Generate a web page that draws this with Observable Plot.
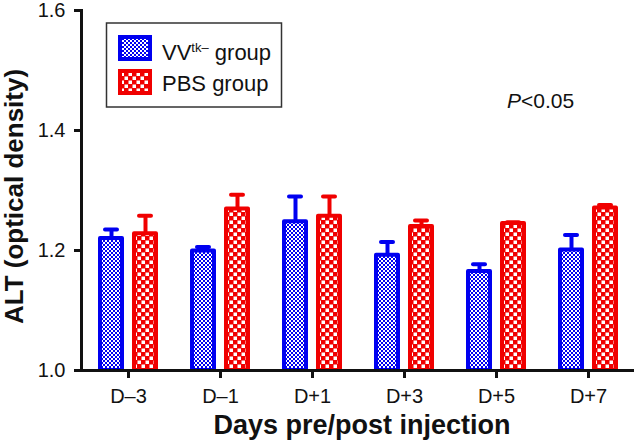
<!DOCTYPE html>
<html><head><meta charset="utf-8">
<script src="https://cdn.jsdelivr.net/npm/d3@7"></script>
<script src="https://cdn.jsdelivr.net/npm/@observablehq/plot@0.6"></script>
<style>
body{margin:0;background:#fff;}
#wrap{position:relative;width:635px;height:447px;font-family:"Liberation Sans",Arial,sans-serif;}
#overlay{position:absolute;left:0;top:0;pointer-events:none;}
</style></head><body><div id="wrap"></div>
<script>
// ---- data ----
const days = ["D–3", "D–1", "D+1", "D+3", "D+5", "D+7"];
const seriesNames = ["VV", "PBS group"];
const vvMean = [1.220, 1.199, 1.248, 1.192, 1.165, 1.201];
const vvErr  = [0.015, 0.007, 0.042, 0.022, 0.012, 0.025];
const pbsMean = [1.228, 1.269, 1.257, 1.240, 1.245, 1.271];
const pbsErr  = [0.030, 0.024, 0.033, 0.010, 0.002, 0.005];
const yTicks = [1.0, 1.2, 1.4, 1.6];
const yBase = 1.0;
const yLabel = "ALT (optical density)";
const xLabel = "Days pre/post injection";

const vv = days.map((d, i) => ({day: d, mean: vvMean[i], err: vvErr[i]}));
const pbs = days.map((d, i) => ({day: d, mean: pbsMean[i], err: pbsErr[i]}));

const BLUE = "#0000f0", RED = "#f00000";
const barInset = 35, capInset = 40;

function group(data, color, pat, dx) {
  return [
    Plot.ruleX(data, {x: "day", y1: "mean", y2: d => d.mean + d.err, dx, stroke: color, strokeWidth: 4}),
    Plot.tickY(data, {x: "day", y: d => d.mean + d.err, dx, stroke: color, strokeWidth: 4, strokeLinecap: "round", insetLeft: capInset, insetRight: capInset}),
    Plot.barY(data, {x: "day", y1: () => yBase, y2: "mean", dx, fill: `url(#${pat})`, stroke: color, strokeWidth: 4, strokeLinejoin: "round", insetLeft: barInset, insetRight: barInset})
  ];
}

const chart = Plot.plot({
  width: 635, height: 447,
  marginLeft: 81, marginRight: 1, marginTop: 10, marginBottom: 77,
  style: {fontFamily: "'Liberation Sans', Arial, sans-serif", color: "#111", background: "#fff"},
  x: {domain: days, padding: 0},
  y: {domain: [1.0, 1.6]},
  marks: [
    ...group(vv, BLUE, "bluePat", -17),
    ...group(pbs, RED, "redPat", 17),
    Plot.axisY({ticks: yTicks, tickFormat: d => d.toFixed(1), tickSize: 7, tickPadding: 9, fontSize: 20, strokeWidth: 3, label: null}),
    Plot.axisX({tickSize: 8, tickPadding: 10, fontSize: 20, strokeWidth: 3, label: null}),
    Plot.frame({anchor: "left", strokeWidth: 3}),
    Plot.ruleY([yBase], {strokeWidth: 3}),
    Plot.text([yLabel], {text: d => d, frameAnchor: "left", rotate: -90, dx: -67, dy: 6, fontSize: 26, fontWeight: "bold", textAnchor: "middle", lineAnchor: "middle"}),
    Plot.text([xLabel], {text: d => d, frameAnchor: "bottom", dx: 4, dy: 55, fontSize: 27, fontWeight: "bold", lineAnchor: "middle"})
  ]
});

d3.select(chart).insert("defs", ":first-child").html(
  `<pattern id="bluePat" width="4" height="4" patternUnits="userSpaceOnUse">
     <rect width="4" height="4" fill="#ffffff"/>
     <rect width="2" height="2" fill="${BLUE}"/><rect x="2" y="2" width="2" height="2" fill="${BLUE}"/>
   </pattern>
   <pattern id="redPat" width="8" height="8" patternUnits="userSpaceOnUse">
     <rect width="8" height="8" fill="${RED}"/>
     <rect x="0.5" y="0.5" width="3.5" height="3.5" fill="#ffffff"/><rect x="4.5" y="4.5" width="3.5" height="3.5" fill="#ffffff"/>
   </pattern>`);

const wrap = document.getElementById("wrap");
wrap.appendChild(chart);

// legend + annotation overlay
const ov = d3.select(wrap).append("svg").attr("id", "overlay").attr("width", 635).attr("height", 447)
  .style("font-family", "'Liberation Sans', Arial, sans-serif");
ov.append("rect").attr("x", 106.5).attr("y", 23).attr("width", 175).attr("height", 84)
  .attr("fill", "#fff").attr("stroke", "#333").attr("stroke-width", 1.5);
ov.append("rect").attr("x", 120).attr("y", 37).attr("width", 30).attr("height", 22)
  .attr("fill", "url(#bluePat)").attr("stroke", BLUE).attr("stroke-width", 4);
ov.append("rect").attr("x", 120).attr("y", 71).attr("width", 30).attr("height", 22)
  .attr("fill", "url(#redPat)").attr("stroke", RED).attr("stroke-width", 4);
const t1 = ov.append("text").attr("x", 162).attr("y", 60).attr("font-size", 22).attr("fill", "#111");
t1.append("tspan").text(seriesNames[0]);
t1.append("tspan").attr("font-size", 13).attr("dy", -8).text("tk–");
t1.append("tspan").attr("dy", 8).text(" group");
ov.append("text").attr("x", 162).attr("y", 90.5).attr("font-size", 22).attr("fill", "#111").text(seriesNames[1]);
const tp = ov.append("text").attr("x", 507).attr("y", 108).attr("font-size", 21).attr("fill", "#111");
tp.append("tspan").attr("font-style", "italic").text("P");
tp.append("tspan").text("<0.05");
</script>
</body></html>
